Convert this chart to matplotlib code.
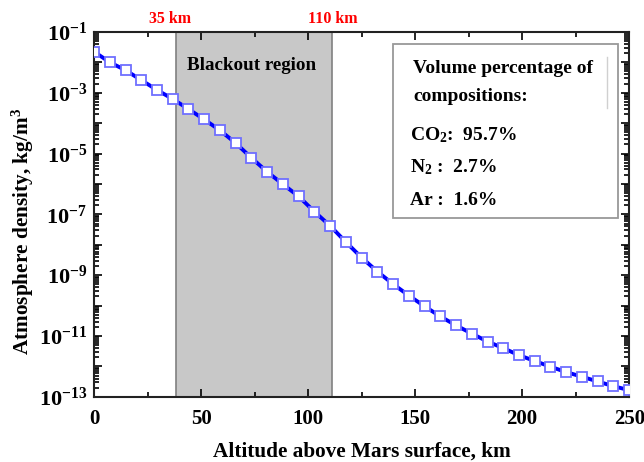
import numpy as np
import matplotlib
matplotlib.use('Agg')
import matplotlib.pyplot as plt
from matplotlib.ticker import LogLocator, FuncFormatter, MultipleLocator
from matplotlib.patches import Rectangle

plt.rcParams['font.family'] = 'Liberation Serif'
plt.rcParams['font.weight'] = 'bold'
plt.rcParams['mathtext.fontset'] = 'custom'
plt.rcParams['mathtext.rm'] = 'Liberation Serif:bold'
plt.rcParams['mathtext.bf'] = 'Liberation Serif:bold'
plt.rcParams['mathtext.it'] = 'Liberation Serif:bold'

# Altitud (km) y densidad atmosférica (kg/m3)
altitude = np.linspace(0, 250, 35)
density = [2.24e-2, 1.0e-2, 5.5e-3, 2.6e-3, 1.23e-3, 6.2e-4, 2.9e-4, 1.32e-4,
           5.8e-5, 2.2e-5, 7.2e-6, 2.5e-6, 9.8e-7, 3.9e-7, 1.23e-7, 4.2e-8,
           1.23e-8, 3.8e-9, 1.32e-9, 5.1e-10, 2.14e-10, 9.5e-11, 4.4e-11,
           2.24e-11, 1.2e-11, 6.6e-12, 4.0e-12, 2.34e-12, 1.51e-12, 9.8e-13,
           6.5e-13, 4.6e-13, 3.2e-13, 2.24e-13, 1.66e-13]

blackout = (38.2, 111.3)
blackout_labels = ['35 km', '110 km']
label_pos = [35.6, 111.5]
compositions = ['Volume percentage of', 'compositions:',
                r'CO$_\mathbf{2}$:  95.7%', r'N$_\mathbf{2}$ :  2.7%', 'Ar :  1.6%']

fig = plt.figure(figsize=(6.44, 4.62), dpi=100)
ax = fig.add_axes([0.146, 0.141, 0.831, 0.790])

# Región de apagón
ax.axvspan(blackout[0], blackout[1], facecolor='#c8c8c8', edgecolor='#808080', lw=1.2, zorder=0)
ax.text(0.294, 0.907, 'Blackout region', transform=ax.transAxes, ha='center', va='center',
        fontsize=13.7, fontweight='bold')

ax.plot(altitude, density, color='#0000ff', lw=2.8, marker='s', ms=6.5,
        mfc='white', mec='#6f6fff', mew=1.3, zorder=3)

ax.set_yscale('log')
ax.set_xlim(0, 250)
ax.set_ylim(1e-13, 1e-1)

ax.xaxis.set_major_locator(MultipleLocator(50))
ax.xaxis.set_minor_locator(MultipleLocator(25))
ax.yaxis.set_major_locator(LogLocator(base=10, numticks=20))
ax.yaxis.set_minor_locator(LogLocator(base=10, subs=np.arange(2, 10), numticks=20))

def fmt_y(v, pos):
    e = int(round(np.log10(v)))
    if e % 2 == 0:
        return ''
    return r'$\mathbf{10^{%d}}$' % e

ax.yaxis.set_major_formatter(FuncFormatter(fmt_y))
ax.yaxis.set_minor_formatter(FuncFormatter(lambda v, p: ''))

ax.tick_params(which='both', direction='in', top=True, right=True, width=1.2, labelsize=16)
ax.tick_params(which='major', length=6)
ax.tick_params(which='minor', length=3.5)
ax.tick_params(axis='x', pad=9, labelsize=15)
ax.tick_params(axis='y', pad=5)
for lab in ax.get_xticklabels():
    lab.set_fontweight('bold')
for s in ax.spines.values():
    s.set_linewidth(1.5)
    s.set_color('#222222')

ax.set_xlabel('Altitude above Mars surface, km', fontsize=15.3, fontweight='bold', labelpad=9)
ax.set_ylabel(r'Atmosphere density, kg/m$^\mathbf{3}$', fontsize=15.3, fontweight='bold')
ax.yaxis.set_label_coords(-0.108, 0.453)

# Etiquetas rojas arriba
for xp, lab in zip(label_pos, blackout_labels):
    ax.text(xp, 1.034, lab, transform=ax.get_xaxis_transform(), ha='center', va='center',
            color='red', fontsize=11.5, fontweight='bold', clip_on=False)

# Cuadro de composición
ax.add_patch(Rectangle((0.558, 0.490), 0.422, 0.476, transform=ax.transAxes,
                       facecolor='white', edgecolor='#999999', lw=1.3, zorder=4))
ax.plot([0.959, 0.959], [0.792, 0.932], transform=ax.transAxes, color='#d0d0d0', lw=1, zorder=5)
ys = [0.901, 0.822, 0.718, 0.630, 0.537]
for y, t in zip(ys, compositions):
    ax.text(0.596 if y > 0.8 else 0.590, y, t, transform=ax.transAxes, ha='left', va='center',
            fontsize=14, fontweight='bold', zorder=6)

fig.savefig('out.png', dpi=100)
